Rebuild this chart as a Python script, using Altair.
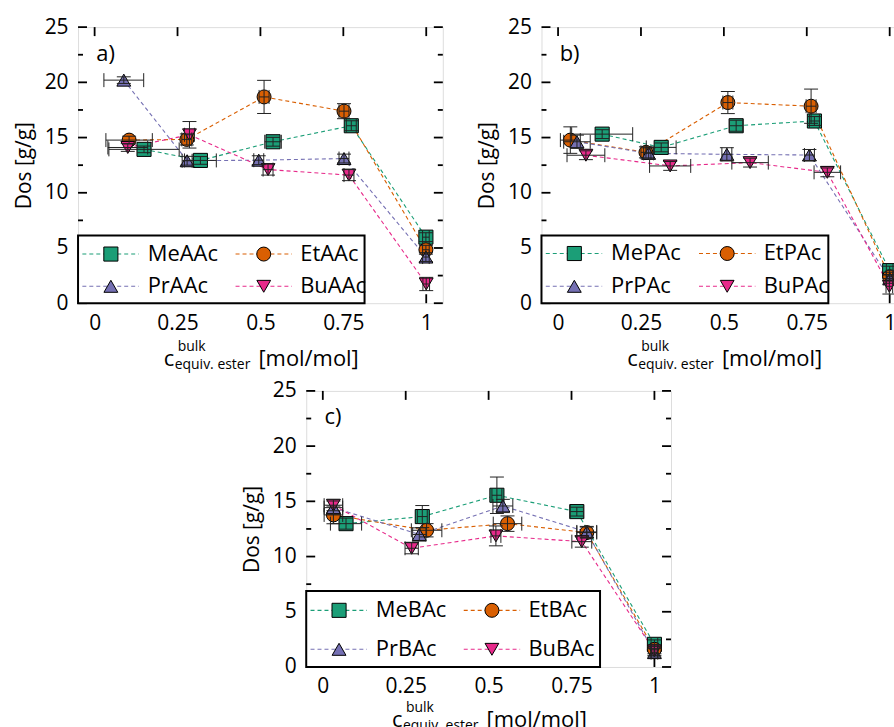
import altair as alt
import pandas as pd

FONT = "Open Sans"
X_TICKS = [0, 0.25, 0.5, 0.75, 1]
Y_TICKS = [0, 5, 10, 15, 20, 25]
Y_MINOR = [2.5, 7.5, 12.5, 17.5, 22.5]
KINDS = ["Me", "Et", "Pr", "Bu"]
COLORS = ["#1b9e77", "#d95f02", "#7570b3", "#e7298a"]
SHAPES = ["square", "circle", "triangle-up", "triangle-down"]
SIZES = [200, 190, 300, 300]

PANEL_LABELS = ["a)", "b)", "c)"]
NAMES = [
    ["MeAAc", "EtAAc", "PrAAc", "BuAAc"],
    ["MePAc", "EtPAc", "PrPAc", "BuPAc"],
    ["MeBAc", "EtBAc", "PrBAc", "BuBAc"],
]

# ---------------- panel a ----------------
A_ME_X = [0.149, 0.319, 0.538, 0.774, 0.999]
A_ME_Y = [13.93, 12.93, 14.62, 16.07, 5.98]
A_ME_XE = [0.106, 0.048, 0.025, 0.015, 0.01]
A_ME_YE = [0.3, 0.35, 0.4, 0.45, 0.4]
A_ET_X = [0.104, 0.278, 0.511, 0.752, 0.999]
A_ET_Y = [14.77, 14.83, 18.68, 17.39, 4.84]
A_ET_XE = [0.07, 0.015, 0.015, 0.015, 0.01]
A_ET_YE = [0.35, 0.5, 1.5, 0.68, 0.4]
A_PR_X = [0.088, 0.279, 0.495, 0.752, 0.999]
A_PR_Y = [20.2, 12.9, 12.95, 13.1, 4.18]
A_PR_XE = [0.06, 0.015, 0.015, 0.015, 0.01]
A_PR_YE = [0.3, 0.4, 0.4, 0.4, 0.4]
A_BU_X = [0.10, 0.286, 0.523, 0.767, 1.0]
A_BU_Y = [14.1, 15.25, 12.1, 11.6, 1.74]
A_BU_XE = [0.06, 0.015, 0.015, 0.015, 0.01]
A_BU_YE = [0.35, 1.2, 0.5, 0.5, 0.6]

# ---------------- panel b ----------------
B_ME_X = [0.133, 0.311, 0.537, 0.773, 1.0]
B_ME_Y = [15.31, 14.11, 16.07, 16.5, 2.95]
B_ME_XE = [0.092, 0.045, 0.02, 0.015, 0.01]
B_ME_YE = [0.4, 0.4, 0.5, 0.4, 0.4]
B_ET_X = [0.037, 0.265, 0.512, 0.763, 1.0]
B_ET_Y = [14.77, 13.66, 18.17, 17.84, 2.4]
B_ET_XE = [0.03, 0.015, 0.015, 0.015, 0.01]
B_ET_YE = [1.2, 0.5, 1.0, 1.55, 0.4]
B_PR_X = [0.057, 0.273, 0.509, 0.758, 1.0]
B_PR_Y = [14.62, 13.57, 13.48, 13.42, 2.2]
B_PR_XE = [0.04, 0.015, 0.015, 0.015, 0.01]
B_PR_YE = [0.6, 0.5, 0.6, 0.5, 0.4]
B_BU_X = [0.084, 0.338, 0.579, 0.812, 0.999]
B_BU_Y = [13.4, 12.43, 12.73, 11.85, 1.53]
B_BU_XE = [0.057, 0.062, 0.055, 0.04, 0.01]
B_BU_YE = [0.4, 0.4, 0.4, 0.4, 0.7]

# ---------------- panel c ----------------
C_ME_X = [0.070, 0.300, 0.525, 0.766, 1.0]
C_ME_Y = [12.98, 13.62, 15.55, 14.07, 2.05]
C_ME_XE = [0.047, 0.015, 0.015, 0.02, 0.01]
C_ME_YE = [0.5, 1.0, 1.65, 0.4, 0.4]
C_ET_X = [0.032, 0.313, 0.557, 0.796, 1.0]
C_ET_Y = [13.77, 12.38, 12.98, 12.17, 1.6]
C_ET_XE = [0.028, 0.046, 0.043, 0.03, 0.01]
C_ET_YE = [0.8, 0.6, 0.7, 0.5, 0.4]
C_PR_X = [0.032, 0.291, 0.543, 0.796, 1.0]
C_PR_Y = [14.43, 12.0, 14.58, 12.23, 1.3]
C_PR_XE = [0.028, 0.02, 0.03, 0.03, 0.01]
C_PR_YE = [0.6, 0.6, 0.6, 0.5, 0.4]
C_BU_X = [0.032, 0.268, 0.522, 0.781, 1.0]
C_BU_Y = [14.65, 10.75, 11.87, 11.35, 1.45]
C_BU_XE = [0.028, 0.02, 0.015, 0.03, 0.01]
C_BU_YE = [0.5, 0.5, 0.9, 0.5, 0.4]

PANEL_DATA = [
    [(A_ME_X, A_ME_Y, A_ME_XE, A_ME_YE), (A_ET_X, A_ET_Y, A_ET_XE, A_ET_YE),
     (A_PR_X, A_PR_Y, A_PR_XE, A_PR_YE), (A_BU_X, A_BU_Y, A_BU_XE, A_BU_YE)],
    [(B_ME_X, B_ME_Y, B_ME_XE, B_ME_YE), (B_ET_X, B_ET_Y, B_ET_XE, B_ET_YE),
     (B_PR_X, B_PR_Y, B_PR_XE, B_PR_YE), (B_BU_X, B_BU_Y, B_BU_XE, B_BU_YE)],
    [(C_ME_X, C_ME_Y, C_ME_XE, C_ME_YE), (C_ET_X, C_ET_Y, C_ET_XE, C_ET_YE),
     (C_PR_X, C_PR_Y, C_PR_XE, C_PR_YE), (C_BU_X, C_BU_Y, C_BU_XE, C_BU_YE)],
]

# legend geometry in data units
LEG_BOX_RIGHT = [0.814, 0.815, 0.836]
LEG_BOX_TOP = [6.14, 6.14, 6.88]
LEG_ROW_Y = [[4.45, 1.53], [4.5, 1.53], [5.13, 1.6]]
LEG_LINE_X0 = [-0.037, 0.425]
LEG_LINE_X1 = [0.133, 0.595]
LEG_MARK_X = [0.049, 0.51]
LEG_TEXT_X = [0.16, 0.62]

X_DOMAIN = [-0.05, 1.05]
Y_DOMAIN = [0, 25]
W, H = 366, 277
XLAB_BASE = [63, 63, 60]
RIGHT_EXTRA = [0, 0, 8]

XS = alt.Scale(domain=X_DOMAIN, nice=False, zero=False)
YS = alt.Scale(domain=Y_DOMAIN, nice=False, zero=False)
X_AXIS = alt.Axis(values=X_TICKS, labelExpr="datum.value + ''", ticks=False, domain=False,
                  grid=False, title=None, labelFontSize=21, labelFont=FONT,
                  labelColor="black", labelPadding=9)
Y_AXIS = alt.Axis(values=Y_TICKS, ticks=False, domain=False, grid=False, title="Dos [g/g]",
                  labelFontSize=21, labelFont=FONT, labelColor="black", labelPadding=10,
                  titleFontSize=21, titleFont=FONT, titleFontWeight="normal",
                  titleColor="black", titlePadding=10)


def ex(f):
    return alt.X(f"{f}:Q", scale=XS, axis=X_AXIS)


def ey(f):
    return alt.Y(f"{f}:Q", scale=YS, axis=Y_AXIS)


FILL = alt.Fill("kind:N", scale=alt.Scale(domain=KINDS, range=COLORS), legend=None)
STROKE = alt.Stroke("kind:N", scale=alt.Scale(domain=KINDS, range=COLORS), legend=None)
SHAPE = alt.Shape("kind:N", scale=alt.Scale(domain=KINDS, range=SHAPES), legend=None)
SIZE = alt.Size("kind:N", scale=alt.Scale(domain=KINDS, range=SIZES), legend=None)


def panel(i):
    rows = []
    for k, (xs, ys, xes, yes) in enumerate(PANEL_DATA[i]):
        for x, y, xe, ye in zip(xs, ys, xes, yes):
            rows.append(dict(kind=KINDS[k], x=x, y=y, xlo=x - xe, xhi=x + xe,
                             ylo=y - ye, yhi=y + ye))
    d = pd.DataFrame(rows)

    leg = []
    for k in range(4):
        col, row = k % 2, k // 2
        leg.append(dict(kind=KINDS[k], name=NAMES[i][k], lx0=LEG_LINE_X0[col],
                        lx1=LEG_LINE_X1[col], mx=LEG_MARK_X[col], tx=LEG_TEXT_X[col],
                        ly=LEG_ROW_Y[i][row]))
    leg = pd.DataFrame(leg)
    box = pd.DataFrame([dict(x0=X_DOMAIN[0], x1=LEG_BOX_RIGHT[i], y0=Y_DOMAIN[0],
                             y1=LEG_BOX_TOP[i])])

    ymaj = pd.DataFrame(dict(v=Y_TICKS, xl=X_DOMAIN[0], xr=X_DOMAIN[1]))
    ymin = pd.DataFrame(dict(v=Y_MINOR, xl=X_DOMAIN[0], xr=X_DOMAIN[1]))
    xmaj = pd.DataFrame(dict(v=X_TICKS, yb=Y_DOMAIN[0], yt=Y_DOMAIN[1]))

    tk = dict(color="black", strokeWidth=1.8)
    layers = [
        alt.Chart(d).mark_line(strokeDash=[4, 3], strokeWidth=1.1).encode(
            x=ex("x"), y=ey("y"), stroke=STROKE, detail="kind:N", order="x:Q"),
        alt.Chart(ymaj).mark_rule(x2Offset=9, **tk).encode(x=ex("xl"), x2="xl", y=ey("v")),
        alt.Chart(ymin).mark_rule(x2Offset=5, **tk).encode(x=ex("xl"), x2="xl", y=ey("v")),
        alt.Chart(ymaj).mark_rule(x2Offset=-9, **tk).encode(x=ex("xr"), x2="xr", y=ey("v")),
        alt.Chart(ymin).mark_rule(x2Offset=-5, **tk).encode(x=ex("xr"), x2="xr", y=ey("v")),
        alt.Chart(xmaj).mark_rule(y2Offset=9, **tk).encode(x=ex("v"), y=ey("yt"), y2="yt"),
        alt.Chart(xmaj).mark_rule(y2Offset=-9, **tk).encode(x=ex("v"), y=ey("yb"), y2="yb"),
        alt.Chart(box).mark_rect(fill="white", stroke="black", strokeWidth=2).encode(
            x=ex("x0"), x2="x1", y=ey("y0"), y2="y1"),
        alt.Chart(leg).mark_rule(strokeDash=[4, 3], strokeWidth=1.1).encode(
            x=ex("lx0"), x2="lx1", y=ey("ly"), stroke=STROKE),
        alt.Chart(leg).mark_point(filled=True, stroke="black", strokeWidth=1, opacity=1).encode(
            x=ex("mx"), y=ey("ly"), fill=FILL, shape=SHAPE, size=SIZE),
        alt.Chart(leg).mark_text(align="left", baseline="middle", fontSize=22, font=FONT,
                                 color="black").encode(x=ex("tx"), y=ey("ly"), text="name:N"),
        alt.Chart(d).mark_point(filled=True, stroke="black", strokeWidth=1, opacity=1).encode(
            x=ex("x"), y=ey("y"), fill=FILL, shape=SHAPE, size=SIZE),
    ]
    eb = dict(color="#222222", strokeWidth=1)
    layers += [
        alt.Chart(d).mark_rule(**eb).encode(x=ex("x"), y=ey("ylo"), y2="yhi"),
        alt.Chart(d).mark_rule(**eb).encode(x=ex("xlo"), x2="xhi", y=ey("y")),
        alt.Chart(d).mark_rule(xOffset=-7, x2Offset=7, **eb).encode(x=ex("x"), x2="x", y=ey("ylo")),
        alt.Chart(d).mark_rule(xOffset=-7, x2Offset=7, **eb).encode(x=ex("x"), x2="x", y=ey("yhi")),
        alt.Chart(d).mark_rule(yOffset=-7, y2Offset=7, **eb).encode(x=ex("xlo"), y=ey("y"), y2="y"),
        alt.Chart(d).mark_rule(yOffset=-7, y2Offset=7, **eb).encode(x=ex("xhi"), y=ey("y"), y2="y"),
    ]
    lab = pd.DataFrame([dict(t=PANEL_LABELS[i], x=0.005, y=22.6)])
    layers.append(alt.Chart(lab).mark_text(align="left", baseline="middle", fontSize=22,
                                           font=FONT, color="black").encode(
        x=ex("x"), y=ey("y"), text="t:N"))
    base = H + XLAB_BASE[i]
    tx = alt.Chart(lab)
    layers += [
        tx.mark_text(text="c", align="left", baseline="alphabetic", fontSize=22, font=FONT,
                     color="black").encode(x=alt.value(86), y=alt.value(base)),
        tx.mark_text(text="bulk", align="left", baseline="alphabetic", fontSize=14, font=FONT,
                     color="black").encode(x=alt.value(100), y=alt.value(base - 15)),
        tx.mark_text(text="equiv. ester", align="left", baseline="alphabetic", fontSize=14,
                     font=FONT, color="black").encode(x=alt.value(97), y=alt.value(base + 3)),
        tx.mark_text(text="[mol/mol]", align="left", baseline="alphabetic", fontSize=22,
                     font=FONT, color="black").encode(x=alt.value(181), y=alt.value(base)),
    ]
    if RIGHT_EXTRA[i]:
        layers.append(tx.mark_rule(strokeOpacity=0, strokeWidth=1).encode(
            x=alt.value(W + RIGHT_EXTRA[i]), y=alt.value(0), y2=alt.value(2)))
    return alt.layer(*layers).properties(width=W, height=H)


top = alt.hconcat(panel(0), panel(1), spacing=31)
chart = alt.vconcat(top, panel(2), spacing=6, center=True).properties(
    padding={"left": 12, "top": 14, "right": -14, "bottom": -8}
).configure_view(stroke="black", strokeWidth=2).configure(background="white")

chart.save("out.html", embed_options={"renderer": "svg", "actions": False})
